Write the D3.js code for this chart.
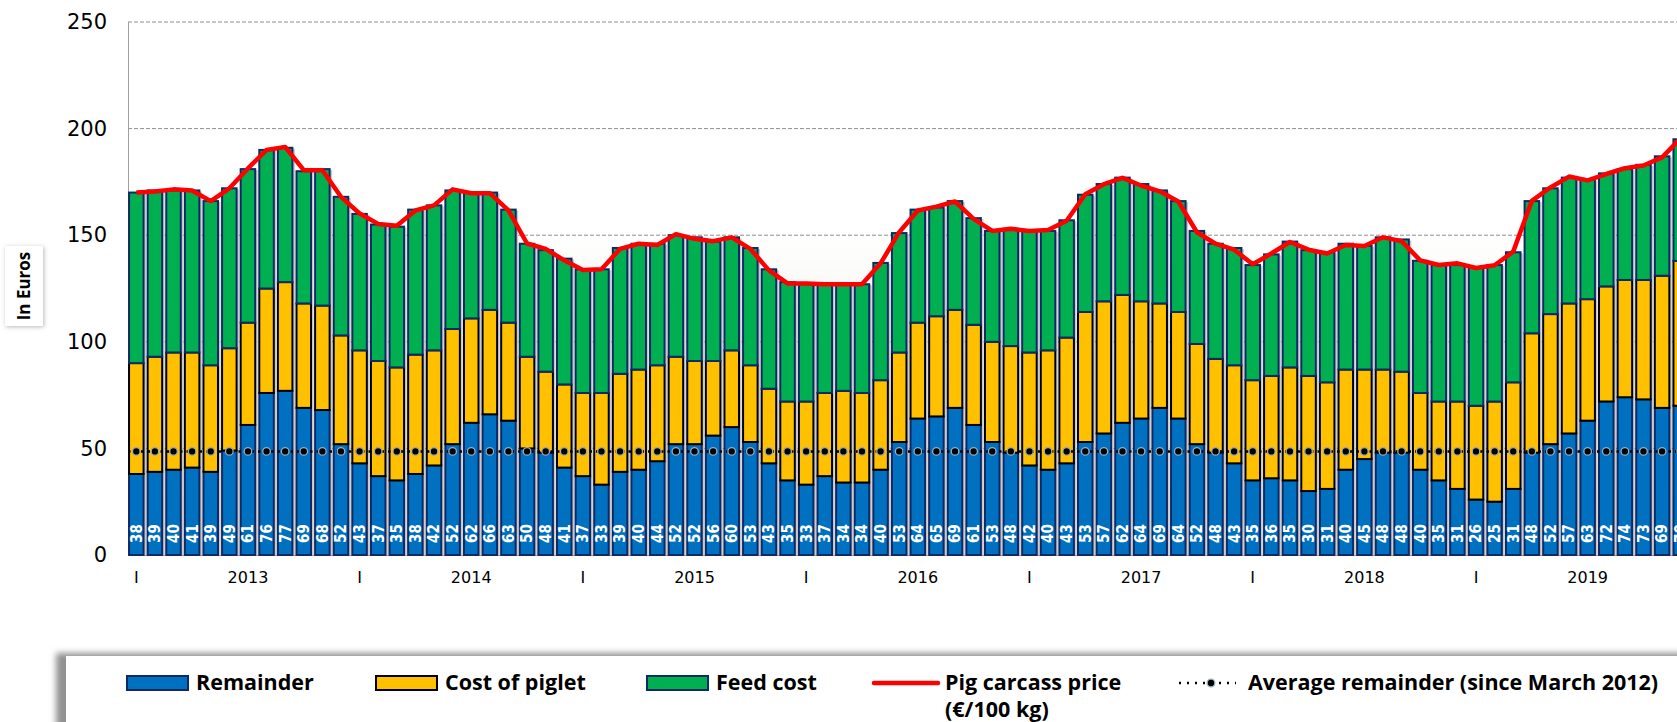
<!DOCTYPE html>
<html>
<head>
<meta charset="utf-8">
<script src="https://cdn.jsdelivr.net/npm/d3@7"></script>
<style>
  body { margin: 0; background: #fff; overflow: hidden; }
  .tick text { fill: #000; }
</style>
</head>
<body>
<script>
// monthly values, Jan 2013 .. Dec 2019
var years = [2013, 2014, 2015, 2016, 2017, 2018, 2019];

var remainder = [38, 39, 40, 41, 39, 49, 61, 76, 77, 69, 68, 52,
                 43, 37, 35, 38, 42, 52, 62, 66, 63, 50, 48, 41,
                 37, 33, 39, 40, 44, 52, 52, 56, 60, 53, 43, 35,
                 33, 37, 34, 34, 40, 53, 64, 65, 69, 61, 53, 48,
                 42, 40, 43, 53, 57, 62, 64, 69, 64, 52, 48, 43,
                 35, 36, 35, 30, 31, 40, 45, 48, 48, 40, 35, 31,
                 26, 25, 31, 48, 52, 57, 63, 72, 74, 73, 69, 70];

var piglet = [52, 54, 55, 54, 50, 48, 48, 49, 51, 49, 49, 51,
              53, 54, 53, 56, 54, 54, 49, 49, 46, 43, 38, 39,
              39, 43, 46, 47, 45, 41, 39, 35, 36, 36, 35, 37,
              39, 39, 43, 42, 42, 42, 45, 47, 46, 47, 47, 50,
              53, 56, 59, 61, 62, 60, 55, 49, 50, 47, 44, 46,
              47, 48, 53, 54, 50, 47, 42, 39, 38, 36, 37, 41,
              44, 47, 50, 56, 61, 61, 57, 54, 55, 56, 62, 68];

var feed = [80, 78, 76, 76, 77, 75, 72, 65, 63, 62, 64, 65,
            64, 64, 66, 68, 68, 65, 59, 55, 53, 53, 57, 59,
            58, 58, 59, 59, 57, 57, 58, 56, 53, 55, 56, 56,
            55, 51, 50, 51, 55, 56, 53, 51, 51, 50, 52, 55,
            57, 56, 55, 55, 55, 55, 55, 53, 52, 53, 54, 55,
            54, 57, 59, 59, 61, 59, 58, 62, 62, 62, 64, 64,
            65, 64, 61, 62, 59, 59, 56, 53, 52, 54, 56, 57];

var price = [170, 170.5, 171.5, 171, 166, 172, 181.3, 190, 191.4, 180.5, 180.5, 168,
             160.2, 155.3, 154.4, 161.6, 164, 171.5, 169.7, 169.7, 161.6, 146.1, 143.6, 138.2,
             133.7, 134, 143.6, 146, 145.4, 150.5, 148.3, 147.2, 149, 143.6, 133.5, 127.4,
             127.4, 127, 127, 127, 136.8, 151.4, 161.6, 163.4, 165.8, 157.7, 152, 153,
             152, 152.4, 156.8, 169.2, 173.9, 176.9, 173.3, 170.6, 165.8, 151.4, 146, 143.2,
             136.4, 141.4, 146.8, 143.2, 141.4, 145.4, 144.9, 149, 147.2, 138.2, 136, 136.8,
             134.6, 135.9, 142.3, 166.1, 172.4, 177.5, 175.7, 178.7, 181.4, 182.7, 186.5, 195.5];

var avgRemainder = 48.6;
var yTicks = [0, 50, 100, 150, 200, 250];

// one entry per month
var months = [];
years.forEach(function(yr) {
  for (var m = 1; m <= 12; m++) months.push(yr + "-" + m);
});
var data = months.map(function(d, i) {
  return {month: d, remainder: remainder[i], piglet: piglet[i], feed: feed[i], price: price[i]};
});

var width = 1677, height = 722;
var plotLeft = 128, plotTop = 22, plotBottom = 555;

var svg = d3.select("body").append("svg")
    .attr("width", width)
    .attr("height", height);

var defs = svg.append("defs");
var grad = defs.append("linearGradient")
    .attr("id", "bg").attr("x1", 0).attr("y1", 0).attr("x2", 0).attr("y2", 1);
grad.append("stop").attr("offset", "0.4").attr("stop-color", "#ffffff");
grad.append("stop").attr("offset", "1").attr("stop-color", "#e2ded2");

var legShadow = defs.append("filter").attr("id", "legShadow")
    .attr("x", "-5%").attr("y", "-50%").attr("width", "110%").attr("height", "200%");
legShadow.append("feDropShadow")
    .attr("dx", -10).attr("dy", -3).attr("stdDeviation", 3)
    .attr("flood-color", "#6b6b6b").attr("flood-opacity", 0.75);

var boxShadow = defs.append("filter").attr("id", "boxShadow")
    .attr("x", "-30%").attr("y", "-30%").attr("width", "160%").attr("height", "160%");
boxShadow.append("feDropShadow")
    .attr("dx", 1).attr("dy", 1).attr("stdDeviation", 2)
    .attr("flood-color", "#888").attr("flood-opacity", 0.6);

// set the ranges
var x = d3.scaleBand()
    .domain(months)
    .range([plotLeft - 1, 1690])
    .paddingInner(0.22)
    .paddingOuter(0.11);
var y = d3.scaleLinear()
    .domain([0, 250])
    .range([plotBottom, plotTop]);

// plot background
svg.append("rect")
    .attr("x", plotLeft).attr("y", y(250))
    .attr("width", width - plotLeft).attr("height", y(0) - y(250))
    .attr("fill", "url(#bg)");

// grid lines
svg.append("g")
    .selectAll("line")
    .data(yTicks.slice(1))
  .enter().append("line")
    .attr("x1", plotLeft).attr("x2", width)
    .attr("y1", function(d) { return y(d); })
    .attr("y2", function(d) { return y(d); })
    .attr("stroke", "#8f8f8f")
    .attr("stroke-width", 1)
    .attr("stroke-dasharray", "4,2");

// left edge and base line
svg.append("line")
    .attr("x1", plotLeft + 0.5).attr("x2", plotLeft + 0.5)
    .attr("y1", y(250)).attr("y2", y(0))
    .attr("stroke", "#a0a0a0");
svg.append("line")
    .attr("x1", plotLeft).attr("x2", width)
    .attr("y1", y(0) + 0.5).attr("y2", y(0) + 0.5)
    .attr("stroke", "#a0a0a0");

// stacked bars
var keys = ["remainder", "piglet", "feed"];
var fills = {remainder: "#0070c0", piglet: "#ffc000", feed: "#00b050"};
var strokes = {remainder: "#0d2a66", piglet: "#000000", feed: "#0d2a66"};
var stacked = d3.stack().keys(keys)(data);

// bar shadow
svg.append("g")
    .selectAll("rect")
    .data(data)
  .enter().append("rect")
    .attr("x", function(d) { return x(d.month) + 2.5; })
    .attr("y", function(d) { return y(d.remainder + d.piglet + d.feed) + 1; })
    .attr("width", x.bandwidth())
    .attr("height", function(d) { return y(0) - y(d.remainder + d.piglet + d.feed) - 1; })
    .attr("fill", "#c9c9c9");

svg.append("g")
    .selectAll("g")
    .data(stacked)
  .enter().append("g")
    .attr("fill", function(s) { return fills[s.key]; })
    .attr("stroke", function(s) { return strokes[s.key]; })
    .attr("stroke-width", 2)
  .selectAll("rect")
    .data(function(s) { return s; })
  .enter().append("rect")
    .attr("x", function(d) { return x(d.data.month); })
    .attr("y", function(d) { return y(d[1]); })
    .attr("width", x.bandwidth())
    .attr("height", function(d) { return y(d[0]) - y(d[1]); });

// remainder labels inside bars
svg.append("g")
    .selectAll("text")
    .data(data)
  .enter().append("text")
    .attr("transform", function(d) {
      return "translate(" + (x(d.month) + x.bandwidth() / 2) + "," + (y(0) - 12) + ") rotate(-90)";
    })
    .attr("dy", "0.36em")
    .attr("fill", "#fff")
    .style("font-family", "'DejaVu Sans Condensed', 'DejaVu Sans', sans-serif")
    .style("font-weight", "bold")
    .style("font-size", "15px")
    .text(function(d) { return d.remainder; });

// average remainder
svg.append("line")
    .attr("x1", plotLeft).attr("x2", width)
    .attr("y1", y(avgRemainder)).attr("y2", y(avgRemainder))
    .attr("stroke", "#000")
    .attr("stroke-width", 2.5)
    .attr("stroke-dasharray", "2.5,4");
svg.append("g")
    .selectAll("circle")
    .data(data)
  .enter().append("circle")
    .attr("cx", function(d) { return x(d.month) + x.bandwidth() / 2; })
    .attr("cy", y(avgRemainder))
    .attr("r", 3.8)
    .attr("fill", "#000")
    .attr("stroke", "#9aaec4")
    .attr("stroke-width", 1.3);

// pig carcass price
var line = d3.line()
    .x(function(d) { return x(d.month) + x.bandwidth() / 2; })
    .y(function(d) { return y(d.price); });
svg.append("path")
    .datum(data)
    .attr("d", line)
    .attr("fill", "none")
    .attr("stroke", "#ff0000")
    .attr("stroke-width", 4.5)
    .attr("stroke-linejoin", "round");

// y axis
var yAxis = svg.append("g")
    .attr("transform", "translate(" + plotLeft + ",0)")
    .call(d3.axisLeft(y).tickValues(yTicks).tickSize(0).tickPadding(21));
yAxis.select(".domain").remove();
yAxis.selectAll("text")
    .style("font-family", "'DejaVu Sans', sans-serif")
    .style("font-size", "21px");

// x axis: "I" at January, year at July
var xAxis = svg.append("g")
    .attr("transform", "translate(0," + y(0) + ")")
    .call(d3.axisBottom(x).tickSize(0).tickPadding(17)
      .tickFormat(function(d) {
        var p = d.split("-");
        if (p[1] === "1") return "I";
        if (p[1] === "7") return p[0];
        return "";
      }));
xAxis.select(".domain").remove();
xAxis.selectAll("text")
    .style("font-family", "'DejaVu Sans', sans-serif")
    .style("font-size", "16px");

// unit box
svg.append("rect")
    .attr("x", 5).attr("y", 246).attr("width", 38).attr("height", 80)
    .attr("fill", "#fff")
    .attr("filter", "url(#boxShadow)");
svg.append("text")
    .attr("transform", "translate(24.5,286) rotate(-90)")
    .attr("text-anchor", "middle")
    .attr("dy", "0.35em")
    .style("font-family", "'Open Sans', sans-serif")
    .style("font-weight", "bold")
    .style("font-size", "17px")
    .text("In Euros");

// legend
svg.append("rect")
    .attr("x", 66).attr("y", 656).attr("width", 1700).attr("height", 120)
    .attr("fill", "#fff")
    .attr("filter", "url(#legShadow)");

var legend = svg.append("g")
    .style("font-family", "'Open Sans', sans-serif")
    .style("font-weight", "bold")
    .style("font-size", "21.5px");

var swatches = [
  {key: "remainder", x: 127, label: "Remainder"},
  {key: "piglet", x: 376, label: "Cost of piglet"},
  {key: "feed", x: 647, label: "Feed cost"}
];
swatches.forEach(function(s) {
  legend.append("rect")
    .attr("x", s.x).attr("y", 676).attr("width", 61).attr("height", 14)
    .attr("fill", fills[s.key])
    .attr("stroke", strokes[s.key])
    .attr("stroke-width", 2);
  legend.append("text")
    .attr("x", s.x + 69).attr("y", 690)
    .text(s.label);
});

legend.append("line")
    .attr("x1", 874).attr("x2", 938).attr("y1", 683).attr("y2", 683)
    .attr("stroke", "#ff0000").attr("stroke-width", 4.5).attr("stroke-linecap", "round");
legend.append("text").attr("x", 945).attr("y", 690).text("Pig carcass price");
legend.append("text").attr("x", 945).attr("y", 717).text("(\u20ac/100 kg)");

legend.append("line")
    .attr("x1", 1179).attr("x2", 1236).attr("y1", 683).attr("y2", 683)
    .attr("stroke", "#000").attr("stroke-width", 2.5).attr("stroke-dasharray", "2,6");
legend.append("circle")
    .attr("cx", 1211).attr("cy", 683).attr("r", 3.8)
    .attr("fill", "#000").attr("stroke", "#9aaec4").attr("stroke-width", 1.3);
legend.append("text").attr("x", 1248).attr("y", 690).text("Average remainder (since March 2012)");
</script>
</body>
</html>
